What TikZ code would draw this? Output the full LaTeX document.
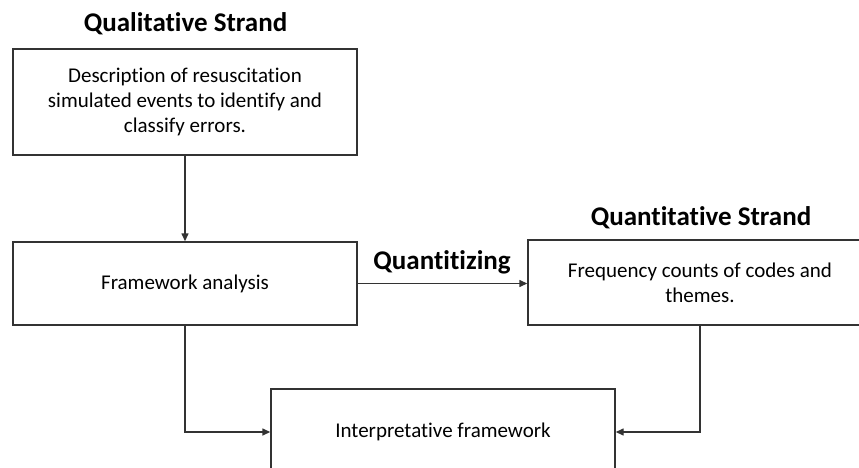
\documentclass[tikz,border=0pt]{standalone}
\usepackage{fontspec}
\setmainfont{Carlito}[Ligatures=NoCommon]
\usetikzlibrary{arrows.meta,positioning}
\definecolor{lineGray}{gray}{0.2}
\tikzset{
  box/.style={rectangle, draw=lineGray, line width=1.4pt, align=center, minimum width=344pt, inner sep=0pt, font=\fontsize{21}{25}\selectfont},
  strand/.style={anchor=base, font=\fontsize{27}{31}\selectfont\bfseries},
  arrow/.style={-{Triangle[length=8pt, width=7pt]}, line width=1.4pt, draw=lineGray}
}

\begin{document}
\begin{tikzpicture}[x=1pt, y=-1pt]
  \clip (0,0) rectangle (859,468);
  \node[box, minimum height=106pt] (desc) at (185,102) {Description of resuscitation\\simulated events to identify and\\classify errors.};
  \node[box, minimum height=83pt] (fw) at (185,283.5) {Framework analysis};
  \node[box, minimum height=85pt] (freq) at (700,282.5) {Frequency counts of codes and\\themes.};
  \node[box, minimum height=86pt] (interp) at (443,432) {Interpretative framework};
  \node[strand] (qual) at (185.5,32) {Qualitative Strand};
  \node[strand] (quant) at (701,225) {Quantitative Strand};
  \draw[arrow] (fw.east) -- (fw.east -| freq.west);
  \node[strand] (quantz) at (442,269) {Quantitizing};
  \draw[arrow] (desc) -- (fw);
  \draw[arrow] (fw.south) |- (interp.west);
  \draw[arrow] (freq.south) |- (interp.east);
\end{tikzpicture}
\end{document}
